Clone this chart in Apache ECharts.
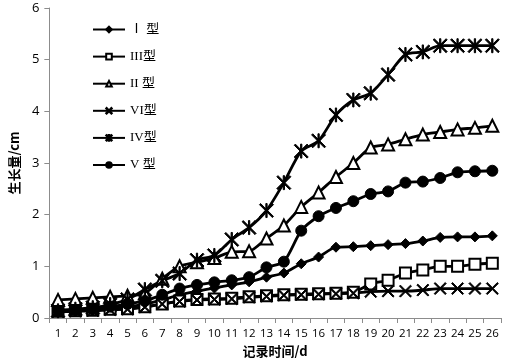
<!DOCTYPE html>
<html>
<head>
<meta charset="utf-8">
<script src="https://cdn.jsdelivr.net/npm/echarts@6/dist/echarts.min.js"></script>
<style>
  html, body { margin: 0; padding: 0; background: #fff; }
  #chart { width: 505px; height: 363px; }
</style>
</head>
<body>
<div id="chart"></div>
<script>
// 记录时间 (d)
const days = ['1','2','3','4','5','6','7','8','9','10','11','12','13','14','15','16','17','18','19','20','21','22','23','24','25','26']

// 各类型生长量 (cm)
const typeI   = [0.15,0.16,0.18,0.20,0.22,0.27,0.35,0.45,0.52,0.58,0.64,0.70,0.79,0.87,1.05,1.18,1.37,1.38,1.40,1.42,1.44,1.49,1.56,1.57,1.57,1.59]
const typeIII = [0.13,0.14,0.15,0.17,0.18,0.22,0.27,0.33,0.36,0.37,0.38,0.41,0.43,0.45,0.46,0.47,0.48,0.50,0.66,0.73,0.87,0.93,1.00,1.00,1.04,1.06]
const typeII  = [0.35,0.37,0.39,0.41,0.43,0.48,0.76,1.00,1.08,1.16,1.28,1.29,1.54,1.79,2.15,2.43,2.73,3.00,3.30,3.36,3.46,3.55,3.60,3.65,3.68,3.72]
const typeVI  = [0.12,0.13,0.14,0.16,0.17,0.21,0.27,0.32,0.35,0.36,0.37,0.40,0.42,0.44,0.45,0.46,0.47,0.48,0.51,0.52,0.52,0.54,0.57,0.57,0.57,0.57]
const typeIV  = [0.14,0.17,0.20,0.26,0.36,0.55,0.72,0.86,1.12,1.21,1.52,1.75,2.08,2.62,3.23,3.43,3.93,4.22,4.35,4.71,5.10,5.15,5.27,5.27,5.27,5.27]
const typeV   = [0.13,0.15,0.17,0.22,0.27,0.33,0.45,0.57,0.64,0.69,0.73,0.79,0.98,1.09,1.69,1.97,2.13,2.26,2.40,2.45,2.62,2.64,2.71,2.82,2.84,2.85]

const typeNames = ['Ⅰ 型', 'III型', 'II 型', 'VI型', 'IV型', 'V 型']
const yTicks = [0, 6, 1] // min, max, interval

// 自定义标记: X 形和星号
const crossPath = 'path://M0,0.8L0.8,0L5,4.2L9.2,0L10,0.8L5.8,5L10,9.2L9.2,10L5,5.8L0.8,10L0,9.2L4.2,5Z'
const starPath = 'path://M0,0.8L0.8,0L5,4.2L9.2,0L10,0.8L5.8,5L10,9.2L9.2,10L5,5.8L0.8,10L0,9.2L4.2,5ZM4.55,0L5.45,0L5.45,10L4.55,10Z'

function makeSeries(name, data, symbol, size) {
  return {
    name: name,
    type: 'line',
    data: data,
    smooth: 0.25,
    symbol: symbol,
    symbolSize: size,
    showAllSymbol: true,
    lineStyle: { color: '#000', width: 2.8 },
    itemStyle: { color: '#000', borderColor: '#000', borderWidth: 1 },
    emphasis: { disabled: true }
  }
}

let myChart = echarts.init(document.getElementById('chart'))
let option = {
  backgroundColor: '#fff',
  animation: false,
  grid: { left: 43, right: 4, top: 8, bottom: 41 },
  legend: {
    orient: 'vertical',
    left: 87,
    top: 18,
    itemWidth: 32,
    itemHeight: 7,
    itemGap: 14.1,
    textStyle: {
      fontFamily: '"Liberation Serif", "Noto Sans CJK SC", serif',
      fontSize: 13,
      color: '#000'
    },
    data: typeNames
  },
  xAxis: {
    type: 'category',
    data: days,
    boundaryGap: true,
    name: '记录时间/d',
    nameLocation: 'middle',
    nameGap: 27,
    nameTextStyle: {
      fontFamily: '"Noto Sans CJK SC", sans-serif',
      fontWeight: 'bold',
      fontSize: 13,
      color: '#000'
    },
    axisLine: { lineStyle: { color: '#8c8c8c', width: 1 } },
    axisTick: { show: true, length: 5, lineStyle: { color: '#8c8c8c' } },
    axisLabel: {
      interval: 0,
      margin: 10,
      fontFamily: '"Open Sans", sans-serif',
      fontSize: 11.5,
      color: '#000'
    },
    splitLine: { show: false }
  },
  yAxis: {
    type: 'value',
    min: yTicks[0],
    max: yTicks[1],
    interval: yTicks[2],
    name: '生长量/cm',
    nameLocation: 'middle',
    nameGap: 26,
    nameTextStyle: {
      fontFamily: '"Noto Sans CJK SC", sans-serif',
      fontWeight: 'bold',
      fontSize: 13,
      color: '#000'
    },
    axisLine: { show: true, lineStyle: { color: '#8c8c8c', width: 1 } },
    axisTick: { show: true, length: 5, lineStyle: { color: '#8c8c8c' } },
    axisLabel: {
      margin: 10,
      fontFamily: '"Open Sans", sans-serif',
      fontSize: 13,
      color: '#000'
    },
    splitLine: { show: false }
  },
  series: [
    makeSeries(typeNames[0], typeI, 'diamond', 10),
    makeSeries(typeNames[1], typeIII, 'emptyRect', 11),
    makeSeries(typeNames[2], typeII, 'emptyTriangle', 12),
    makeSeries(typeNames[3], typeVI, crossPath, 12),
    makeSeries(typeNames[4], typeIV, starPath, 14),
    makeSeries(typeNames[5], typeV, 'circle', 11)
  ]
}
myChart.setOption(option)
// 自适应
window.addEventListener('resize', function() {
  myChart.resize()
})
</script>
</body>
</html>
